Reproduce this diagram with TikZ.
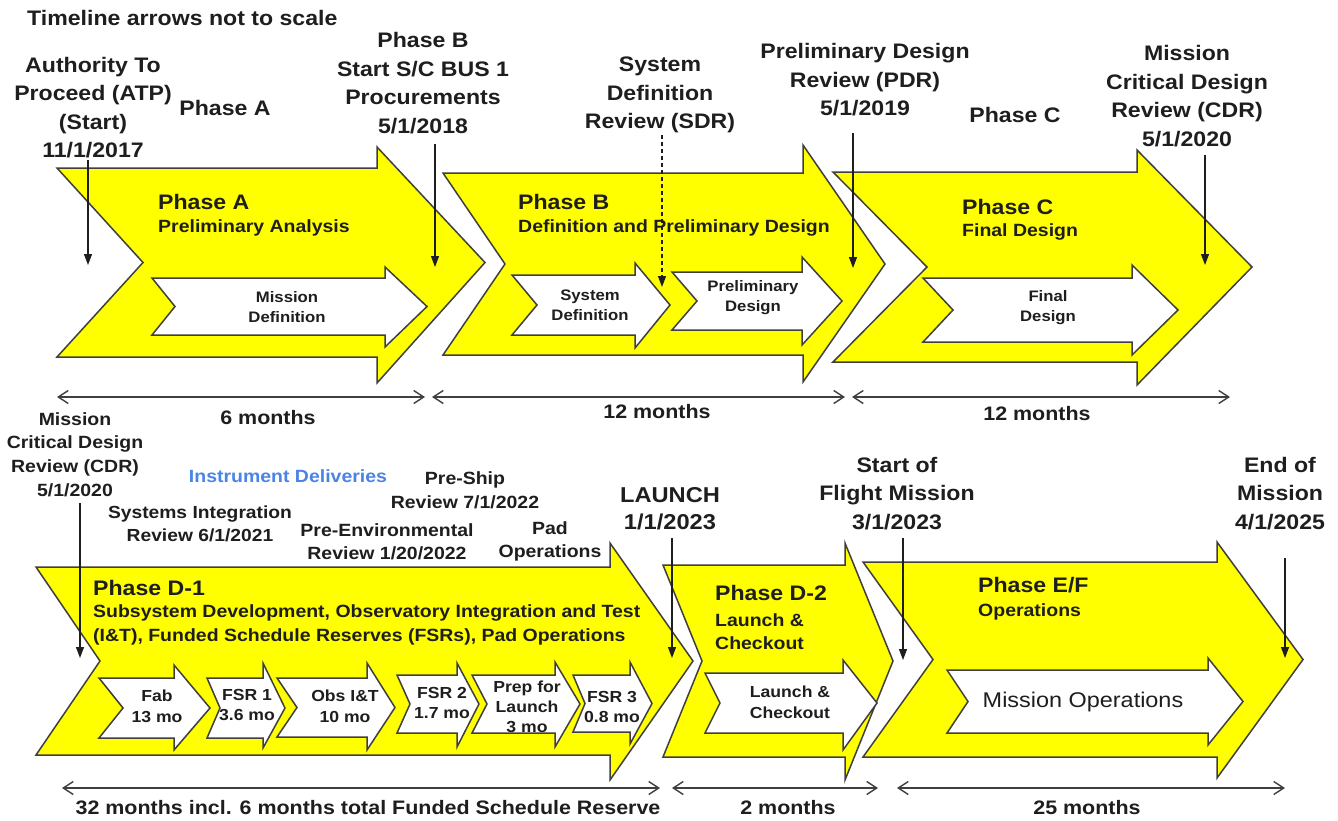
\documentclass[tikz,border=0pt]{standalone}
\usepackage{fontspec}
\setmainfont{Liberation Sans}[FakeStretch=1.1]
\usetikzlibrary{arrows.meta}

\definecolor{phase-yellow}{HTML}{FFFF00}
\definecolor{phase-edge}{HTML}{3F3F3F}
\definecolor{label-dark}{HTML}{1E1E1E}
\definecolor{delivery-blue}{HTML}{4B84E6}

\tikzstyle{phase-big}=[draw=phase-edge, line width=1.5pt, fill=phase-yellow]
\tikzstyle{phase-small}=[draw=phase-edge, line width=1.5pt, fill=white]
\tikzstyle{milestone}=[align=center, inner sep=2pt, font=\fontsize{21}{28.5}\selectfont\bfseries]
\tikzstyle{milestone-small}=[align=center, inner sep=2pt, font=\fontsize{17.7}{23.7}\selectfont\bfseries]
\tikzstyle{phase-title}=[anchor=west, inner sep=0pt, font=\fontsize{21}{24}\selectfont\bfseries]
\tikzstyle{phase-sub}=[anchor=west, align=left, inner sep=0pt, font=\fontsize{17.7}{23.5}\selectfont\bfseries]
\tikzstyle{step-text}=[align=center, inner sep=0pt, font=\fontsize{15.2}{20}\selectfont\bfseries]
\tikzstyle{step-text-d}=[align=center, inner sep=0pt, font=\fontsize{16}{21}\selectfont\bfseries]
\tikzstyle{dim-text}=[inner sep=0pt, font=\fontsize{19.5}{24}\selectfont\bfseries]
\tikzstyle{marker}=[draw=label-dark, line width=1.2pt, -{Triangle[length=11pt,width=8pt]}]
\tikzstyle{span}=[draw=phase-edge, line width=1.4pt, {Straight Barb[length=10pt,width=13pt]}-{Straight Barb[length=10pt,width=13pt]}]

\newcommand{\phasearrow}[9]{\draw[#1] (#2,#6) -- (#4,#6) -- (#4,#8) -- (#5,{(#6+#7)/2}) -- (#4,#9) -- (#4,#7) -- (#2,#7) -- (#3,{(#6+#7)/2}) -- cycle;}

\begin{document}
\begin{tikzpicture}[x=1pt, y=-1pt, text=label-dark]
  \fill[white] (0,0) rectangle (1338,820);
  \useasboundingbox (0,0) rectangle (1338,820);

  \phasearrow{phase-big}{57}{143}{377}{485}{168}{357}{147}{383}
  \phasearrow{phase-big}{443}{505}{803}{885}{173}{355}{145}{382}
  \phasearrow{phase-big}{833}{927}{1137}{1252}{172}{362}{150}{385}
  \phasearrow{phase-small}{152}{175}{385}{427}{278}{335}{267}{347}
  \phasearrow{phase-small}{512}{537}{635}{670}{275}{335}{263}{348}
  \phasearrow{phase-small}{672}{697}{802}{842}{272}{330}{257}{345}
  \phasearrow{phase-small}{923}{953}{1132}{1178}{278}{342}{265}{355}

  \phasearrow{phase-big}{36}{100}{610}{693}{567}{755}{543}{780}
  \phasearrow{phase-big}{663}{702}{845}{893}{565}{757}{543}{780}
  \phasearrow{phase-big}{863}{933}{1217}{1303}{562}{757}{542}{778}
  \phasearrow{phase-small}{99}{123}{174}{210}{678}{738}{665}{750}
  \phasearrow{phase-small}{207}{220}{263}{285}{678}{738}{663}{748}
  \phasearrow{phase-small}{277}{297}{367}{395}{678}{737}{663}{750}
  \phasearrow{phase-small}{397}{410}{457}{479}{675}{733}{663}{747}
  \phasearrow{phase-small}{472}{487}{555}{580}{675}{733}{662}{747}
  \phasearrow{phase-small}{573}{585}{630}{652}{675}{732}{662}{744}
  \phasearrow{phase-small}{705}{720}{843}{877}{673}{733}{660}{750}
  \phasearrow{phase-small}{947}{968}{1208}{1243}{670}{733}{658}{745}

  \node (title) at (25,18) [milestone, anchor=west] {Timeline arrows not to scale};
  \node (label-atp) at (93,107.5) [milestone] {Authority To\\Proceed (ATP)\\(Start)\\11/1/2017};
  \node (label-phase-a) at (225,108) [milestone] {Phase A};
  \node (label-phase-b) at (423,83) [milestone] {Phase B\\Start S/C BUS 1\\Procurements\\5/1/2018};
  \node (label-sdr) at (660,95) [milestone] {System\\Definition\\Review (SDR)};
  \node (label-pdr) at (865,80) [milestone] {Preliminary Design\\Review (PDR)\\5/1/2019};
  \node (label-phase-c) at (1015,115) [milestone] {Phase C};
  \node (label-cdr) at (1187,96) [milestone] {Mission\\Critical Design\\Review (CDR)\\5/1/2020};

  \node (title-a) at (158,202) [phase-title] {Phase A};
  \node (sub-a) at (158,228) [phase-sub] {Preliminary Analysis};
  \node (title-b) at (518,202) [phase-title] {Phase B};
  \node (sub-b) at (518,228) [phase-sub] {Definition and Preliminary Design};
  \node (title-c) at (962,207) [phase-title] {Phase C};
  \node (sub-c) at (962,232) [phase-sub] {Final Design};
  \node (step-md) at (287,307) [step-text] {Mission\\Definition};
  \node (step-sd) at (590,305) [step-text] {System\\Definition};
  \node (step-pd) at (753,298) [step-text] {Preliminary\\Design};
  \node (step-fd) at (1048,308) [step-text] {Final\\Design};

  \node (label-cdr-d) at (75,454.5) [milestone-small] {Mission\\Critical Design\\Review (CDR)\\5/1/2020};
  \node (label-deliveries) at (288,476) [milestone-small, text=delivery-blue] {Instrument Deliveries};
  \node (label-sir) at (200,523.5) [milestone-small, font=\fontsize{17.5}{23}\selectfont\bfseries] {Systems Integration\\Review 6/1/2021};
  \node (label-per) at (387,541.5) [milestone-small, font=\fontsize{17.7}{23}\selectfont\bfseries] {Pre-Environmental\\Review 1/20/2022};
  \node (label-psr) at (465,490) [milestone-small] {Pre-Ship\\Review 7/1/2022};
  \node (label-pad) at (550,541.5) [milestone-small, font=\fontsize{17.7}{23}\selectfont\bfseries] {Pad\\Operations};
  \node (label-launch) at (670,508.5) [milestone, font=\fontsize{21.5}{27}\selectfont\bfseries] {LAUNCH\\1/1/2023};
  \node (label-flight) at (897,493.5) [milestone] {Start of\\Flight Mission\\3/1/2023};
  \node (label-end) at (1280,493.5) [milestone] {End of\\Mission\\4/1/2025};

  \node (title-d1) at (93,588) [phase-title] {Phase D-1};
  \node (sub-d1) at (93,625) [phase-sub] {Subsystem Development, Observatory Integration and Test\\(I\&T), Funded Schedule Reserves (FSRs), Pad Operations};
  \node (title-d2) at (715,593) [phase-title] {Phase D-2};
  \node (sub-d2) at (715,631.5) [phase-sub] {Launch \&\\Checkout};
  \node (title-ef) at (978,585) [phase-title] {Phase E/F};
  \node (sub-ef) at (978,612) [phase-sub] {Operations};
  \node (step-fab) at (157,706) [step-text-d] {Fab\\13 mo};
  \node (step-fsr1) at (247,705) [step-text-d, font=\fontsize{16}{20}\selectfont\bfseries] {FSR 1\\3.6 mo};
  \node (step-obs) at (345,706) [step-text-d] {Obs I\&T\\10 mo};
  \node (step-fsr2) at (442,703) [step-text-d, font=\fontsize{16}{20}\selectfont\bfseries] {FSR 2\\1.7 mo};
  \node (step-prep) at (527,707) [step-text-d, font=\fontsize{16}{20}\selectfont\bfseries] {Prep for\\Launch\\3 mo};
  \node (step-fsr3) at (612,707) [step-text-d, font=\fontsize{16}{20}\selectfont\bfseries] {FSR 3\\0.8 mo};
  \node (step-lc) at (790,702.5) [step-text-d] {Launch \&\\Checkout};
  \node (step-mo) at (1083,702) [step-text-d, font=\fontsize{21.3}{24}\selectfont] {Mission Operations};

  \coordinate (mark-atp) at (88,265);
  \coordinate (mark-phase-b) at (435,267);
  \coordinate (mark-sdr) at (662,287);
  \coordinate (mark-pdr) at (853,268);
  \coordinate (mark-cdr) at (1205,265);
  \coordinate (mark-cdr-d) at (80,658);
  \coordinate (mark-launch) at (672,658);
  \coordinate (mark-flight) at (903,660);
  \coordinate (mark-end) at (1285,658);
  \draw[marker] (label-atp.south -| mark-atp) -- (mark-atp);
  \draw[marker, shorten <=8pt] (label-phase-b.south -| mark-phase-b) -- (mark-phase-b);
  \draw[marker, dash pattern=on 4pt off 3pt] (label-sdr.south -| mark-sdr) -- (mark-sdr);
  \draw[marker, shorten <=14pt] (label-pdr.south -| mark-pdr) -- (mark-pdr);
  \draw[marker, shorten <=6pt] (label-cdr.south -| mark-cdr) -- (mark-cdr);
  \draw[marker, shorten <=4pt] (label-cdr-d.south -| mark-cdr-d) -- (mark-cdr-d);
  \draw[marker, shorten <=6pt] (label-launch.south -| mark-launch) -- (mark-launch);
  \draw[marker, shorten <=6pt] (label-flight.south -| mark-flight) -- (mark-flight);
  \draw[marker, shorten <=26pt] (label-end.south -| mark-end) -- (mark-end);

  \coordinate (span-a-left) at (57,397);
  \coordinate (span-a-right) at (425,397);
  \coordinate (span-b-left) at (432,397);
  \coordinate (span-b-right) at (845,397);
  \coordinate (span-c-left) at (852,397);
  \coordinate (span-c-right) at (1230,397);
  \coordinate (span-d1-left) at (62,788);
  \coordinate (span-d1-right) at (660,788);
  \coordinate (span-d2-left) at (672,788);
  \coordinate (span-d2-right) at (878,788);
  \coordinate (span-ef-left) at (897,788);
  \coordinate (span-ef-right) at (1285,788);
  \draw[span] (span-a-left) -- (span-a-right);
  \draw[span] (span-b-left) -- (span-b-right);
  \draw[span] (span-c-left) -- (span-c-right);
  \draw[span] (span-d1-left) -- (span-d1-right);
  \draw[span] (span-d2-left) -- (span-d2-right);
  \draw[span] (span-ef-left) -- (span-ef-right);
  \node (span-a-text) at (268,418) [dim-text] {6 months};
  \node (span-b-text) at (657,412) [dim-text] {12 months};
  \node (span-c-text) at (1037,414) [dim-text] {12 months};
  \node (span-d1-text) at (368,808) [dim-text] {32 months incl. 6 months total Funded Schedule Reserve};
  \node (span-d2-text) at (788,808) [dim-text] {2 months};
  \node (span-ef-text) at (1087,808) [dim-text] {25 months};
\end{tikzpicture}
\end{document}
